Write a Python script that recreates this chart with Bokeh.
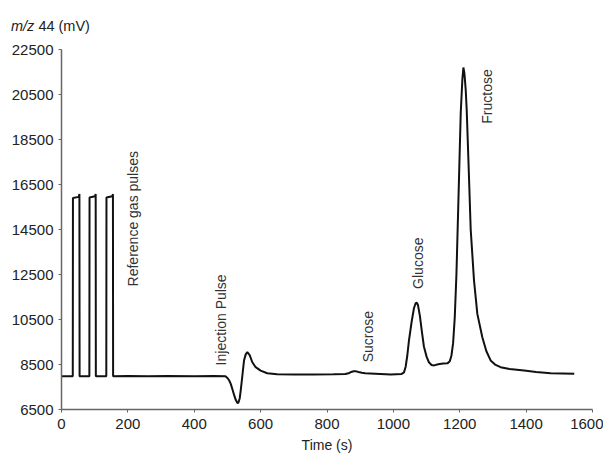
from bokeh.plotting import figure
from bokeh.layouts import column
from bokeh.models import ColumnDataSource, FixedTicker, Div
from bokeh.core.properties import value
from bokeh.embed import file_html
from bokeh.resources import INLINE
import numpy as np

# trace: time (s) and m/z 44 signal (mV)
time_s = [0, 34, 34.5, 52, 54, 54.5, 84, 84.5, 101, 103, 103.5, 135, 135.5, 153, 155, 155.5,
          200, 260, 320, 400, 460, 494, 500, 505, 510, 515, 520, 525, 530, 533, 537, 540, 545,
          550, 555, 560, 567, 575, 585, 600, 620, 650, 700, 760, 820, 855, 865, 873, 880, 888,
          895, 905, 915, 945, 992, 1025, 1032, 1037, 1042, 1047, 1055, 1062, 1067, 1070, 1074,
          1080, 1086, 1092, 1100, 1107, 1115, 1123, 1135, 1150, 1163, 1170, 1175, 1180, 1185,
          1190, 1196, 1203, 1208, 1211, 1214, 1218, 1221, 1227, 1233, 1243, 1253, 1268, 1280,
          1293, 1308, 1323, 1350, 1394, 1430, 1474, 1510, 1545]
signal_mv = [7980, 7980, 15900, 15950, 16080, 7980, 7980, 15920, 15980, 16080, 7980, 7980, 15920, 15980, 16070, 7980,
             7985, 7975, 7990, 7980, 7985, 7975, 7900, 7800, 7640, 7400, 7150, 6930, 6790, 6800, 7000, 7340, 8000,
             8680, 8950, 9050, 8920, 8600, 8380, 8230, 8110, 8070, 8060, 8060, 8065, 8075, 8110, 8170, 8200, 8195,
             8165, 8130, 8110, 8090, 8060, 8080, 8150, 8400, 8900, 9570, 10400, 11000, 11220, 11250, 11150,
             10650, 9950, 9300, 8850, 8600, 8480, 8460, 8510, 8540, 8550, 8640, 8900, 9450, 10600,
             12500, 15800, 19700, 21200, 21700, 21450, 20700, 19800, 17200, 14500, 12230, 10750, 9710, 9100,
             8680, 8480, 8380, 8300, 8230, 8170, 8110, 8100, 8085]

peak_names = ["Reference gas pulses", "Injection Pulse", "Sucrose", "Glucose", "Fructose"]
peak_x = [214, 482, 925, 1073, 1281]
peak_y = [11970, 8460, 8600, 11860, 19200]

x_ticks = [0, 200, 400, 600, 800, 1000, 1200, 1400, 1600]
y_ticks = [6500, 8500, 10500, 12500, 14500, 16500, 18500, 20500, 22500]

FONT = "Liberation Sans"

# y axis caption above the chart, "m/z" in italics
cap = Div(text='<div style="font-family:\'Liberation Sans\'; font-size:14.5px; color:#222222; '
               'line-height:16px; padding:18px 0 0 11px; white-space:nowrap;">'
               '<i>m/z</i> 44 (mV)</div>',
          width=603, height=40, margin=(0, 0, 0, 0))

p = figure(width=603, height=418, x_range=(0, 1600), y_range=(6500, 22500),
           output_backend="svg", toolbar_location=None,
           min_border_left=61, min_border_right=11, min_border_top=9, min_border_bottom=49)
p.grid.visible = False
p.outline_line_color = None

p.xaxis.ticker = FixedTicker(ticks=x_ticks)
p.yaxis.ticker = FixedTicker(ticks=y_ticks)
for ax in (p.xaxis, p.yaxis):
    ax.axis_line_color = "#666666"
    ax.axis_line_width = 1.5
    ax.major_tick_line_color = "#666666"
    ax.major_tick_in = 0
    ax.major_tick_out = 3
    ax.minor_tick_line_color = None
    ax.major_label_text_font = FONT
    ax.major_label_text_font_size = "15px"
    ax.major_label_text_color = "#222222"
p.yaxis.major_label_standoff = 5
p.xaxis.major_label_standoff = 6

p.xaxis.axis_label = "Time (s)"
p.xaxis.axis_label_text_font = FONT
p.xaxis.axis_label_text_font_size = "14px"
p.xaxis.axis_label_text_font_style = "normal"
p.xaxis.axis_label_text_color = "#222222"
p.xaxis.axis_label_standoff = 5

p.line(time_s, signal_mv, line_color="#111111", line_width=2)

src = ColumnDataSource(dict(x=peak_x, y=peak_y, name=peak_names))
p.text(x="x", y="y", text="name", source=src, angle=np.pi / 2,
       text_font=value(FONT), text_font_size="14px",
       text_align="left", text_baseline="middle", text_color="#333333")

layout = column(cap, p, spacing=0)
open("out.html", "w").write(file_html(layout, INLINE))
